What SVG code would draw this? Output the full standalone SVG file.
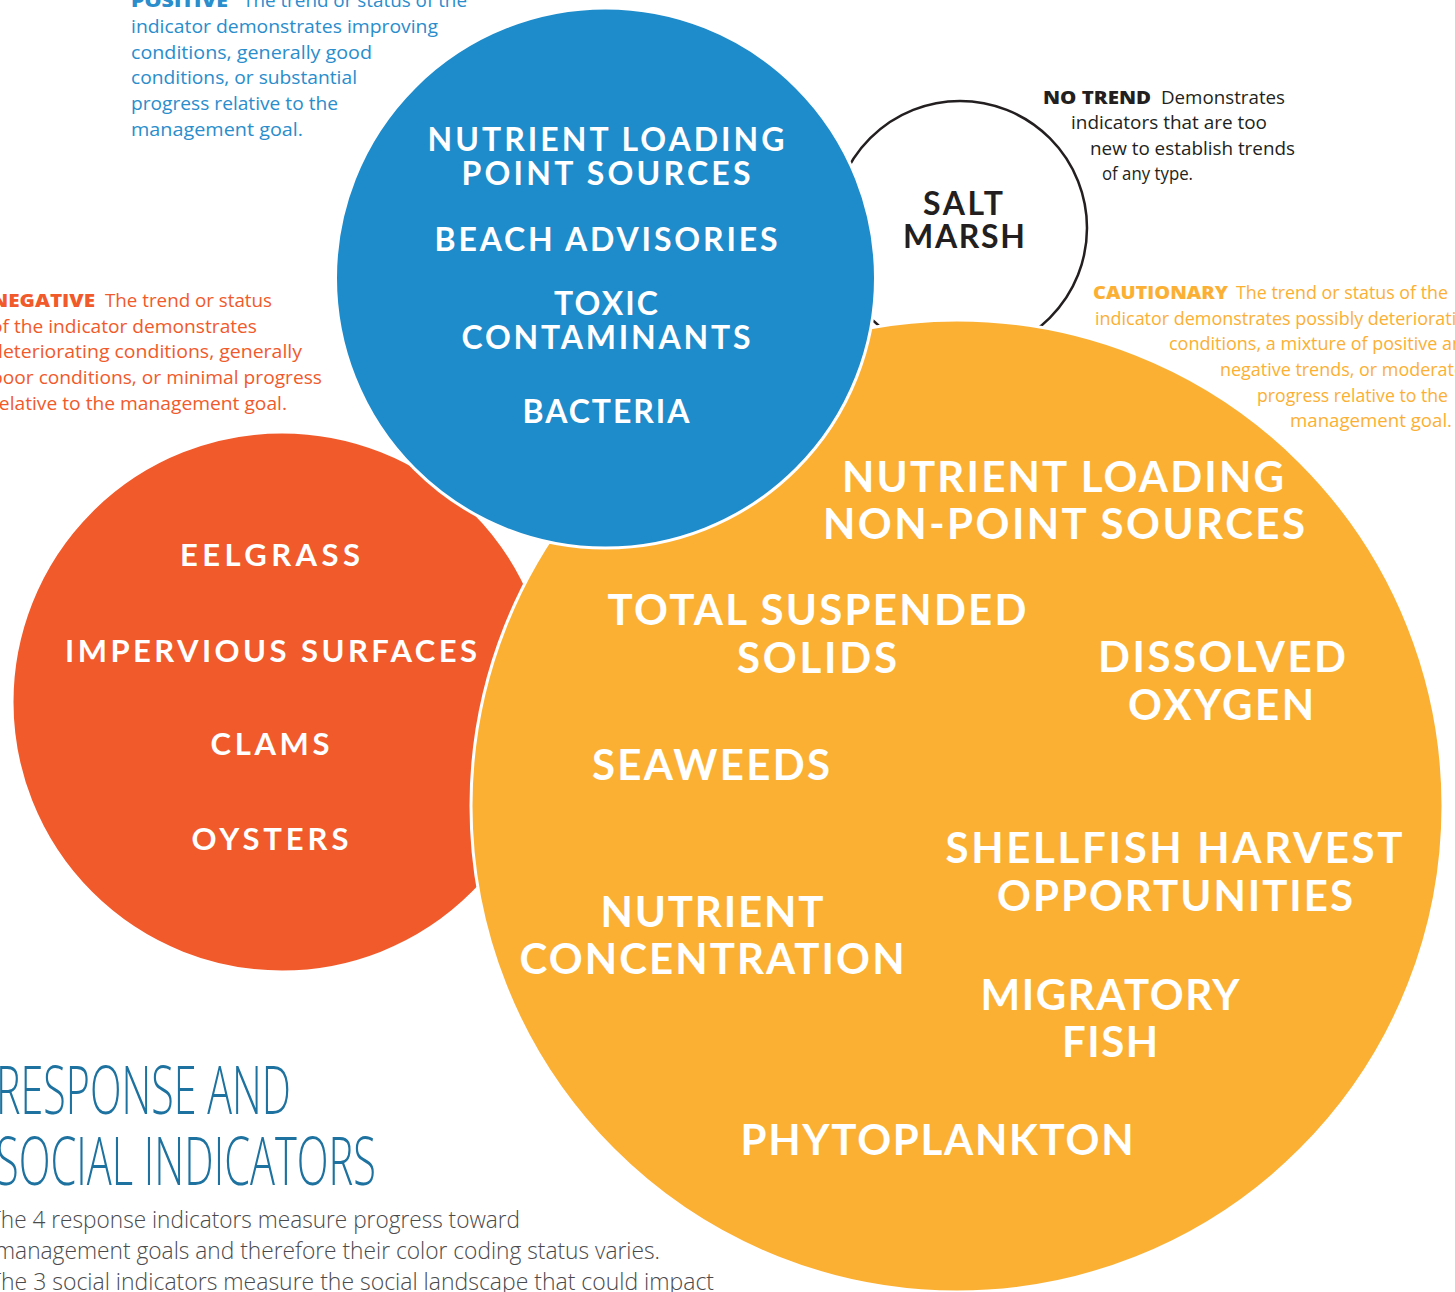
<svg xmlns="http://www.w3.org/2000/svg" width="1455" height="1292" viewBox="0 0 1455 1292">
<style>
.lbl{font-family:Lato,"Open Sans",sans-serif;font-weight:700;fill:#fff;text-anchor:middle}
.b{font-size:32px}
.y{font-size:42px}
.r{font-size:31px}
.leg{font-family:"Open Sans","Noto Sans",sans-serif;font-size:18px}
.bold{font-weight:800}
.pos{fill:#2a8dcc}
.neg{fill:#f15a2b}
.cau{fill:#fbb034}
.nt{fill:#231f20}
.title{font-family:"Open Sans","Noto Sans",sans-serif;font-weight:300;font-size:66px;fill:#1d72a0}
.body{font-family:"Open Sans","Noto Sans",sans-serif;font-weight:300;font-size:23px;fill:#4a4a4c}
</style>
<rect width="1455" height="1292" fill="#fff"/>

<g id="salt-marsh">
<circle cx="960" cy="228" r="127" fill="#fff" stroke="#231f20" stroke-width="2.5"/>
<text class="lbl b" style="fill:#231f20" x="963" y="215" textLength="80" lengthAdjust="spacing">SALT</text>
<text class="lbl b" style="fill:#231f20" x="964" y="248" textLength="122" lengthAdjust="spacing">MARSH</text>
</g>

<g id="negative-circle">
<circle cx="282" cy="702" r="270" fill="#f15a2b" stroke="#fff" stroke-width="3"/>
<text class="lbl r" x="270" y="566" textLength="180" lengthAdjust="spacing">EELGRASS</text>
<text class="lbl r" x="271" y="662" textLength="412" lengthAdjust="spacing">IMPERVIOUS SURFACES</text>
<text class="lbl r" x="270" y="755" textLength="119" lengthAdjust="spacing">CLAMS</text>
<text class="lbl r" x="270" y="850" textLength="157" lengthAdjust="spacing">OYSTERS</text>
</g>

<g id="cautionary-circle">
<circle cx="957" cy="806" r="486" fill="#fbb034" stroke="#fff" stroke-width="3"/>
<text class="lbl y" x="1063" y="492" textLength="442" lengthAdjust="spacing">NUTRIENT LOADING</text>
<text class="lbl y" x="1064" y="539" textLength="482" lengthAdjust="spacing">NON-POINT SOURCES</text>
<text class="lbl y" x="817" y="625" textLength="419" lengthAdjust="spacing">TOTAL SUSPENDED</text>
<text class="lbl y" x="817" y="673" textLength="160" lengthAdjust="spacing">SOLIDS</text>
<text class="lbl y" x="1222" y="672" textLength="248" lengthAdjust="spacing">DISSOLVED</text>
<text class="lbl y" x="1221" y="720" textLength="186" lengthAdjust="spacing">OXYGEN</text>
<text class="lbl y" x="711" y="780" textLength="238" lengthAdjust="spacing">SEAWEEDS</text>
<text class="lbl y" x="1174" y="863" textLength="457" lengthAdjust="spacing">SHELLFISH HARVEST</text>
<text class="lbl y" x="1175" y="911" textLength="356" lengthAdjust="spacing">OPPORTUNITIES</text>
<text class="lbl y" x="712" y="927" textLength="223" lengthAdjust="spacing">NUTRIENT</text>
<text class="lbl y" x="712" y="974" textLength="385" lengthAdjust="spacing">CONCENTRATION</text>
<text class="lbl y" x="1110" y="1010" textLength="259" lengthAdjust="spacing">MIGRATORY</text>
<text class="lbl y" x="1110" y="1057" textLength="96" lengthAdjust="spacing">FISH</text>
<text class="lbl y" x="937" y="1155" textLength="393" lengthAdjust="spacing">PHYTOPLANKTON</text>
</g>

<g id="positive-circle">
<circle cx="605.5" cy="278" r="270" fill="#1e8bcb" stroke="#fff" stroke-width="3"/>
<text class="lbl b" x="606" y="151" textLength="357" lengthAdjust="spacing">NUTRIENT LOADING</text>
<text class="lbl b" x="606" y="185" textLength="289" lengthAdjust="spacing">POINT SOURCES</text>
<text class="lbl b" x="606" y="251" textLength="343" lengthAdjust="spacing">BEACH ADVISORIES</text>
<text class="lbl b" x="606" y="315" textLength="104" lengthAdjust="spacing">TOXIC</text>
<text class="lbl b" x="606" y="349" textLength="289" lengthAdjust="spacing">CONTAMINANTS</text>
<text class="lbl b" x="606" y="423" textLength="167" lengthAdjust="spacing">BACTERIA</text>
</g>

<g id="legend-positive" class="leg pos">
<text class="bold" x="131" y="7" textLength="97" lengthAdjust="spacingAndGlyphs">POSITIVE</text>
<text x="243" y="7" textLength="224" lengthAdjust="spacingAndGlyphs">The trend or status of the</text>
<text x="131" y="33" textLength="307" lengthAdjust="spacingAndGlyphs">indicator demonstrates improving</text>
<text x="131" y="59" textLength="241" lengthAdjust="spacingAndGlyphs">conditions, generally good</text>
<text x="131" y="84" textLength="226" lengthAdjust="spacingAndGlyphs">conditions, or substantial</text>
<text x="131" y="110" textLength="207" lengthAdjust="spacingAndGlyphs">progress relative to the</text>
<text x="131" y="136" textLength="172" lengthAdjust="spacingAndGlyphs">management goal.</text>
</g>

<g id="legend-no-trend" class="leg nt">
<text class="bold" x="1043" y="104" textLength="108" lengthAdjust="spacingAndGlyphs">NO TREND</text>
<text x="1161" y="104" textLength="124" lengthAdjust="spacingAndGlyphs">Demonstrates</text>
<text x="1071" y="129" textLength="196" lengthAdjust="spacingAndGlyphs">indicators that are too</text>
<text x="1090" y="155" textLength="205" lengthAdjust="spacingAndGlyphs">new to establish trends</text>
<text x="1102" y="180" textLength="91" lengthAdjust="spacingAndGlyphs">of any type.</text>
</g>

<g id="legend-cautionary" class="leg cau">
<text class="bold" x="1093" y="299" textLength="135" lengthAdjust="spacingAndGlyphs">CAUTIONARY</text>
<text x="1236" y="299" textLength="212" lengthAdjust="spacingAndGlyphs">The trend or status of the</text>
<text x="1095" y="325" textLength="382" lengthAdjust="spacingAndGlyphs">indicator demonstrates possibly deteriorating</text>
<text x="1169" y="350" textLength="305" lengthAdjust="spacingAndGlyphs">conditions, a mixture of positive and</text>
<text x="1220" y="376" textLength="244" lengthAdjust="spacingAndGlyphs">negative trends, or moderate</text>
<text x="1257" y="402" textLength="191" lengthAdjust="spacingAndGlyphs">progress relative to the</text>
<text x="1290" y="427" textLength="162" lengthAdjust="spacingAndGlyphs">management goal.</text>
</g>

<g id="legend-negative" class="leg neg">
<text class="bold" x="-9" y="307" textLength="104" lengthAdjust="spacingAndGlyphs">NEGATIVE</text>
<text x="105" y="307" textLength="167" lengthAdjust="spacingAndGlyphs">The trend or status</text>
<text x="-9" y="333" textLength="266" lengthAdjust="spacingAndGlyphs">of the indicator demonstrates</text>
<text x="-9" y="358" textLength="311" lengthAdjust="spacingAndGlyphs">deteriorating conditions, generally</text>
<text x="-9" y="384" textLength="331" lengthAdjust="spacingAndGlyphs">poor conditions, or minimal progress</text>
<text x="-9" y="410" textLength="296" lengthAdjust="spacingAndGlyphs">relative to the management goal.</text>
</g>

<g id="title">
<text class="title" x="-4" y="1114" textLength="295" lengthAdjust="spacingAndGlyphs">RESPONSE AND</text>
<text class="title" x="-4" y="1185" textLength="380" lengthAdjust="spacingAndGlyphs">SOCIAL INDICATORS</text>
<text class="body" x="-11" y="1228" textLength="531" lengthAdjust="spacingAndGlyphs">The 4 response indicators measure progress toward</text>
<text class="body" x="-5" y="1259" textLength="665" lengthAdjust="spacingAndGlyphs">management goals and therefore their color coding status varies.</text>
<text class="body" x="-11" y="1290" textLength="725" lengthAdjust="spacingAndGlyphs">The 3 social indicators measure the social landscape that could impact</text>
</g>
</svg>
